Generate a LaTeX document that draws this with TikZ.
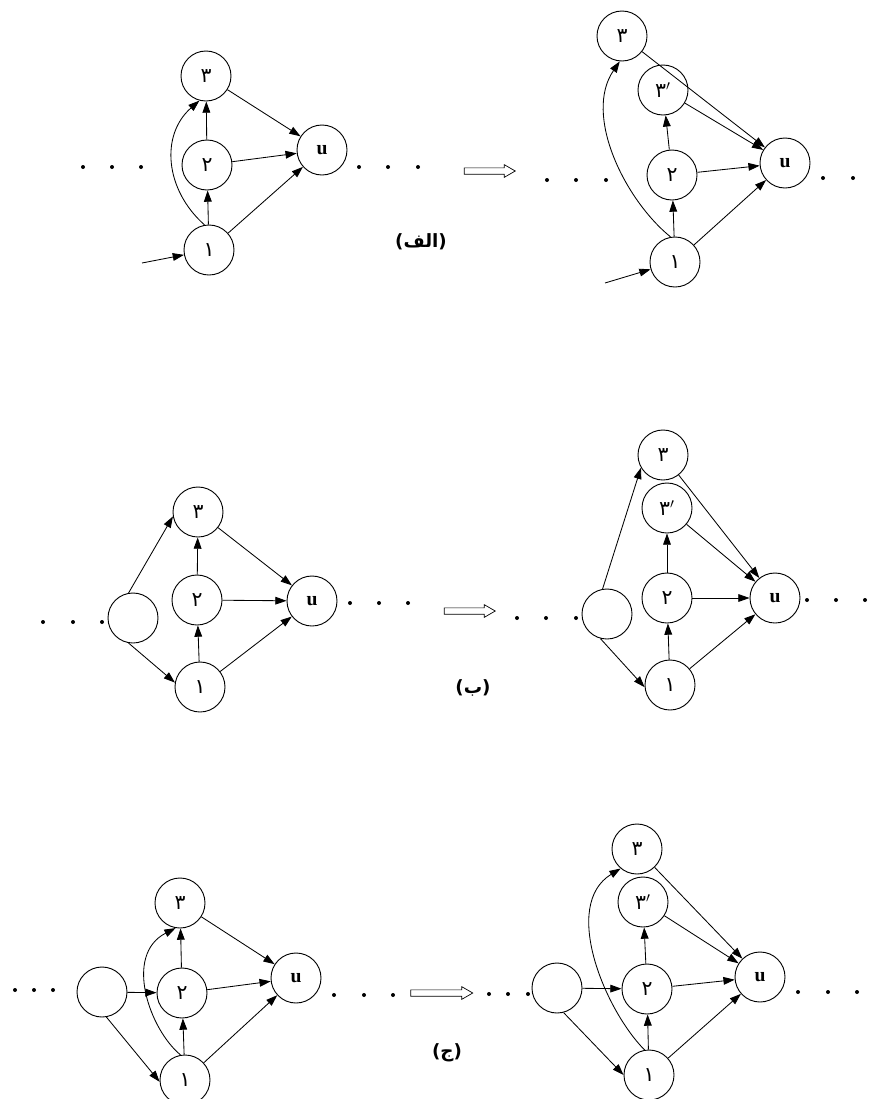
\documentclass[tikz,border=0pt]{standalone}
\usepackage{fontspec}
\usetikzlibrary{arrows.meta,shapes.arrows}
\newfontfamily\arabicfont[Script=Arabic]{DejaVu Sans}
\newfontfamily\latinfont{Liberation Serif}
\TeXXeTstate=1
\tikzset{
  vertex/.style={circle,draw,line width=0.65pt,minimum size=1.25cm,inner sep=0pt,font=\arabicfont\fontsize{14.5}{14.5}\selectfont},
  uvertex/.style={vertex,font=\latinfont\bfseries\fontsize{14}{14}\selectfont},
  edge/.style={line width=0.6pt,-{Triangle[length=8pt,width=5.5pt]}},
  hollowarrow/.style={single arrow,draw,line width=0.5pt,inner sep=0.07cm,single arrow head extend=0.08cm,single arrow tip angle=60},
  caption/.style={font=\arabicfont\bfseries\fontsize{13}{13}\selectfont}
}
\begin{document}
\begin{tikzpicture}[x=0.025cm,y=-0.025cm]
\useasboundingbox (0,0) rectangle (878,1099);
% (alef) left graph
\node[vertex] (al3) at (206,76) {۳};
\node[vertex] (al2) at (207,165) {۲};
\node[vertex] (al1) at (209,250) {۱};
\node[uvertex] (alu) at (322,150) {u};
\coordinate (alin) at (142,263);
\fill (83,167) circle[radius=2] (112,167) circle[radius=2] (141,167) circle[radius=2];
\fill (359,167) circle[radius=2] (388,167) circle[radius=2] (418,167) circle[radius=2];
\draw[edge] (alin) -- (al1);
\draw[edge] (al1) -- (al2);
\draw[edge] (al2) -- (al3);
\draw[edge] (al1.100) .. controls (165,190) and (160,135) .. (al3.-105);
\draw[edge] (al3) -- (alu);
\draw[edge] (al2) -- (alu);
\draw[edge] (al1) -- (alu);
% (alef) arrow and label
\node[hollowarrow,minimum height=1.275cm] (impa) at (487,171) {};
\node[caption] (lbla) at (421,242) {\hbox{)}\hbox{\beginR الف\endR}\hbox{(}};
% (alef) right graph
\node[vertex] (ar3) at (622,36) {۳};
\node[vertex] (ar3p) at (663,90) {۳$'$};
\node[vertex] (ar2) at (672,175) {۲};
\node[vertex] (ar1) at (675,262) {۱};
\node[uvertex] (aru) at (785,163) {u};
\coordinate (arin) at (605,283);
\fill (547,180) circle[radius=2] (576,180) circle[radius=2] (606,180) circle[radius=2];
\fill (823,178) circle[radius=2] (853,178) circle[radius=2];
\draw[edge] (arin) -- (ar1);
\draw[edge] (ar1) -- (ar2);
\draw[edge] (ar2) -- (ar3p);
\draw[edge] (ar1.100) .. controls (625,200) and (583,115) .. (ar3.-95);
\draw[edge] (ar3) -- (aru);
\draw[edge] (ar3p) -- (aru);
\draw[edge] (ar2) -- (aru);
\draw[edge] (ar1) -- (aru);
% (be) left graph
\node[vertex] (bl0) at (133,618) {};
\node[vertex] (bl3) at (198,512) {۳};
\node[vertex] (bl2) at (197,600) {۲};
\node[vertex] (bl1) at (200,687) {۱};
\node[uvertex] (blu) at (312,601) {u};
\fill (43,622) circle[radius=2] (73,622) circle[radius=2] (102,622) circle[radius=2];
\fill (350,603) circle[radius=2] (379,603) circle[radius=2] (408,603) circle[radius=2];
\draw[edge] (bl0.100) -- (bl3.190);
\draw[edge] (bl0.-100) -- (bl1.170);
\draw[edge] (bl1) -- (bl2);
\draw[edge] (bl2) -- (bl3);
\draw[edge] (bl3) -- (blu);
\draw[edge] (bl2) -- (blu);
\draw[edge] (bl1) -- (blu);
% (be) arrow and label
\node[hollowarrow,minimum height=1.275cm] (impb) at (467,611) {};
\node[caption] (lblb) at (473,688) {\hbox{)}\hbox{\beginR ب\endR}\hbox{(}};
% (be) right graph
\node[vertex] (br0) at (607,614) {};
\node[vertex] (br3) at (663,455) {۳};
\node[vertex] (br3p) at (667,508) {۳$'$};
\node[vertex] (br2) at (667,598) {۲};
\node[vertex] (br1) at (670,685) {۱};
\node[uvertex] (bru) at (775,598) {u};
\fill (517,618) circle[radius=2] (546,618) circle[radius=2] (576,618) circle[radius=2];
\fill (807,600) circle[radius=2] (836,600) circle[radius=2] (865,600) circle[radius=2];
\draw[edge] (br0.100) -- (br3.-150);
\draw[edge] (br0.-105) -- (br1.-175);
\draw[edge] (br1) -- (br2);
\draw[edge] (br2) -- (br3p);
\draw[edge] (br3) -- (bru);
\draw[edge] (br3p) -- (bru);
\draw[edge] (br2) -- (bru);
\draw[edge] (br1) -- (bru);
% (jim) left graph
\node[vertex] (cl0) at (102,992) {};
\node[vertex] (cl3) at (180,903) {۳};
\node[vertex] (cl2) at (182,993) {۲};
\node[vertex] (cl1) at (185,1080) {۱};
\node[uvertex] (clu) at (296,978) {u};
\fill (15,990) circle[radius=2] (34,990) circle[radius=2] (53,990) circle[radius=2];
\fill (334,995) circle[radius=2] (364,995) circle[radius=2] (393,995) circle[radius=2];
\draw[edge] (cl0) -- (cl2);
\draw[edge] (cl0.-80) -- (cl1.-176);
\draw[edge] (cl1) -- (cl2);
\draw[edge] (cl2) -- (cl3);
\draw[edge] (cl1.100) .. controls (150,1030) and (123,955) .. (cl3.-100);
\draw[edge] (cl3) -- (clu);
\draw[edge] (cl2) -- (clu);
\draw[edge] (cl1) -- (clu);
% (jim) arrow and label
\node[hollowarrow,minimum height=1.55cm] (impc) at (439,993) {};
\node[caption] (lblc) at (447,1053) {\hbox{)}\hbox{\beginR ج\endR}\hbox{(}};
% (jim) right graph
\node[vertex] (cr0) at (557,988) {};
\node[vertex] (cr3) at (637,849) {۳};
\node[vertex] (cr3p) at (643,902) {۳$'$};
\node[vertex] (cr2) at (647,989) {۲};
\node[vertex] (cr1) at (649,1075) {۱};
\node[uvertex] (cru) at (760,977) {u};
\fill (489,994) circle[radius=2] (508,994) circle[radius=2] (528,994) circle[radius=2];
\fill (798,992) circle[radius=2] (828,992) circle[radius=2] (857,992) circle[radius=2];
\draw[edge] (cr0) -- (cr2);
\draw[edge] (cr0.-75) -- (cr1.west);
\draw[edge] (cr1) -- (cr2);
\draw[edge] (cr2) -- (cr3p);
\draw[edge] (cr1.100) .. controls (605,1010) and (561,905) .. (cr3.-130);
\draw[edge] (cr3) -- (cru);
\draw[edge] (cr3p) -- (cru);
\draw[edge] (cr2) -- (cru);
\draw[edge] (cr1) -- (cru);
\end{tikzpicture}
\end{document}
